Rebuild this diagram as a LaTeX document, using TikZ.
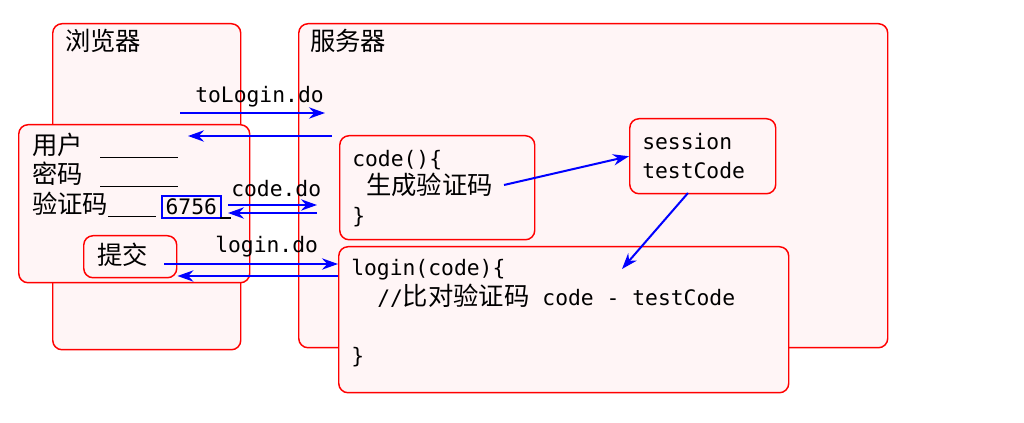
\documentclass[tikz,border=0pt]{standalone}
\usepackage{fontspec}
\setmainfont{Noto Sans CJK SC}
\newfontfamily\codefont{DejaVu Sans Mono}
\usetikzlibrary{arrows.meta}

\definecolor{boxfill}{RGB}{255,245,246}
\definecolor{flowblue}{RGB}{0,0,255}

\tikzset{
  box/.style={draw=red, fill=boxfill, line width=1.1pt, rounded corners=7pt, anchor=north west, inner sep=0pt},
  txt/.style={anchor=base west, inner sep=0pt, font=\fontsize{19}{21}\selectfont},
  code/.style={anchor=base west, inner sep=0pt, font=\codefont\fontsize{16}{18}\selectfont},
  flow/.style={draw=flowblue, line width=1.5pt, -{Stealth[length=12pt,width=8.5pt]}},
}

\begin{document}
\begin{tikzpicture}[x=0.75pt,y=0.75pt,yscale=-1,xscale=1]
\useasboundingbox (0,0) rectangle (1024,423);

% Boxes
\node[box, minimum width=141pt, minimum height=244.5pt] (browser) at (52,23) {};
\node[box, minimum width=441.75pt, minimum height=243pt] (server) at (298,23) {};
\node[box, minimum width=173.25pt, minimum height=118.5pt] (form) at (18,124) {};
\node[box, minimum width=69.75pt, minimum height=31.5pt] (submit) at (83,235) {};
\node[box, minimum width=146.25pt, minimum height=78pt] (codebox) at (339,135) {};
\node[box, minimum width=109.5pt, minimum height=56.25pt] (session) at (629,118) {};
\node[box, minimum width=337.5pt, minimum height=109.5pt] (login) at (338,246) {};

% Titles
\node[txt] (browsertitle) at (65,51) {浏览器};
\node[txt] (servertitle) at (310,51) {服务器};

% Form
\node[txt] (user) at (32,155) {用户\hspace{13pt}\rule[-2.25pt]{58.5pt}{0.9pt}};
\node[txt] (pwd) at (32,184) {密码\hspace{13pt}\rule[-2.25pt]{58.5pt}{0.9pt}};
\node[txt] (vlabel) at (32,214) {验证码\rule[-2.25pt]{36pt}{0.9pt}};
\node[draw=flowblue, line width=1.5pt, inner sep=0pt, minimum width=44pt, minimum height=16.5pt, anchor=north west, font=\codefont\fontsize{16}{18}\selectfont] (vcode) at (161,195) {6756};
\node[txt] (vtail) at (220,214) {\rule[-3.5pt]{8pt}{0.9pt}};
\node[txt] (submittext) at (97,265) {提交};

% Server side
\node[code] (codeline) at (352,167) {code()\{};
\node[txt] (gen) at (366,195) {生成验证码};
\node[code] (codeend) at (352,224) {\}};
\node[code] (sess) at (642,150) {session};
\node[code] (testcode) at (642,179) {testCode};
\node[code] (loginline) at (351,276) {login(code)\{};
\node[code] (compare) at (377,306) {//{\rmfamily\fontsize{19}{21}\selectfont 比对验证码} code - testCode};
\node[code] (loginend) at (351,364) {\}};

% Request labels
\node[code] (tologinlbl) at (195,103) {toLogin.do};
\node[code] (codelbl) at (231,197) {code.do};
\node[code] (loginlbl) at (215,253) {login.do};

% Arrow ends
\coordinate (tl-a) at (180,113);
\coordinate (tl-b) at (325,113);
\coordinate (tl-c) at (332,136);
\coordinate (tl-d) at (188,136);
\coordinate (cd-a) at (228,205);
\coordinate (cd-b) at (317,205);
\coordinate (cd-c) at (317,213);
\coordinate (cd-d) at (228,213);
\coordinate (lg-a) at (164,264);
\coordinate (lg-b) at (176,276);
\coordinate (gen-a) at (504,185);
\coordinate (ss-a) at (688,193);
\coordinate (ss-b) at (622,269);

% Arrows
\draw[flow] (tl-a) -- (tl-b);
\draw[flow] (tl-c) -- (tl-d);
\draw[flow] (cd-a) -- (cd-b);
\draw[flow] (cd-c) -- (cd-d);
\draw[flow] (lg-a) -- (lg-a -| login.west);
\draw[flow] (lg-b -| login.west) -- (lg-b -| submit.east);
\draw[flow] (gen-a) -- (session.west);
\draw[flow] (ss-a) -- (ss-b);

\end{tikzpicture}
\end{document}
